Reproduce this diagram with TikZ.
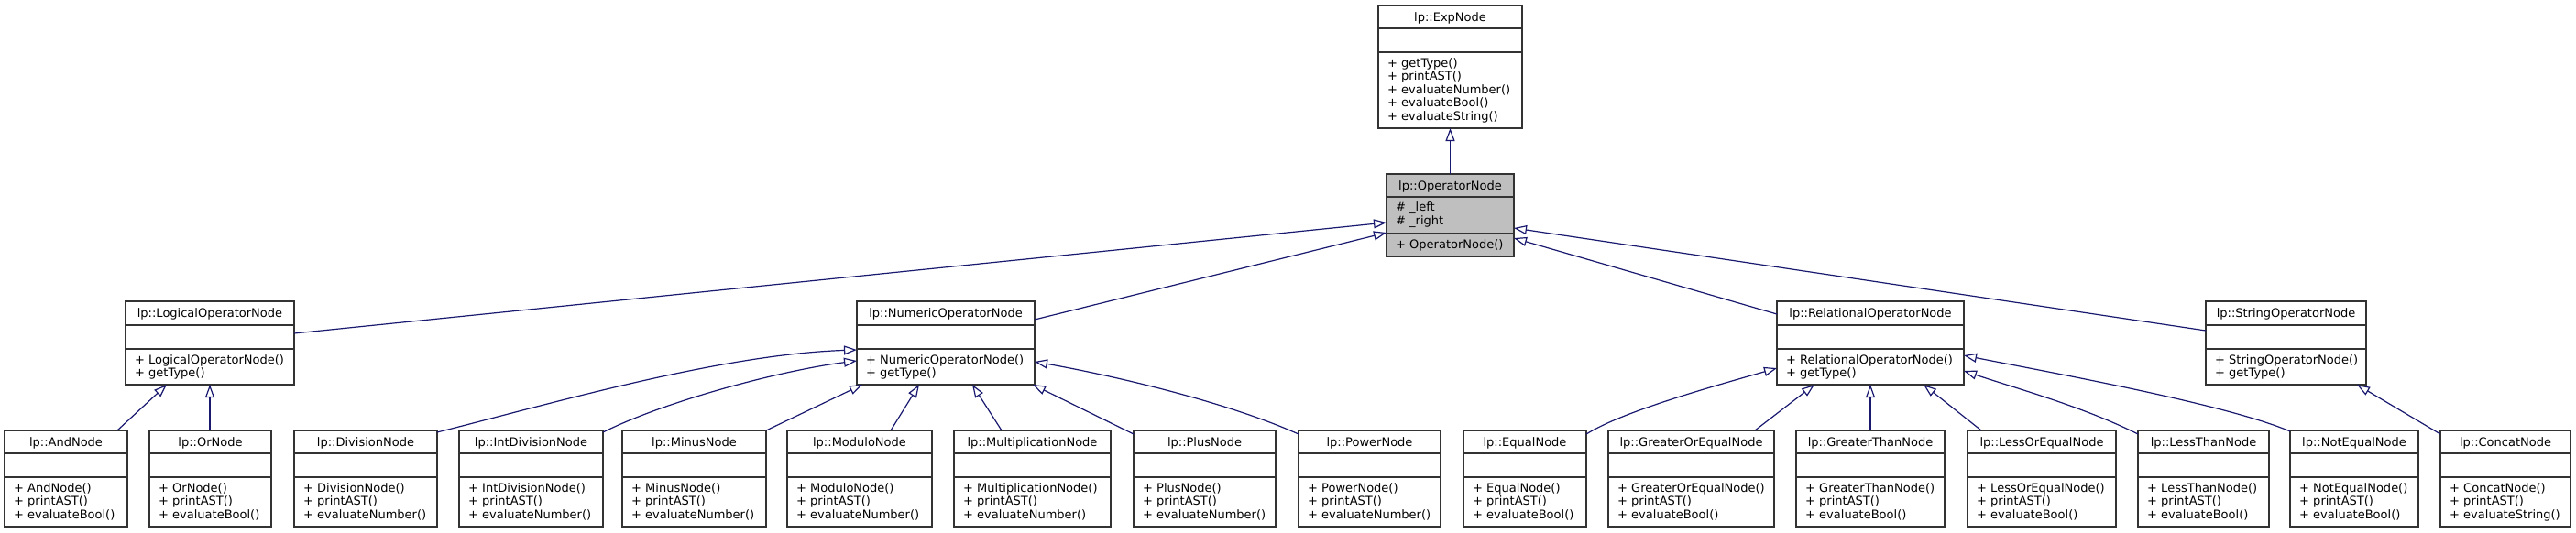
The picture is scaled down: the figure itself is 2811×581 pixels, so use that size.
\documentclass[tikz,border=0pt]{standalone}
\usepackage{fontspec}
\setmainfont{DejaVu Sans}
\usetikzlibrary{arrows.meta}
\definecolor{edgeblue}{HTML}{191970}
\definecolor{boxline}{HTML}{333333}
\definecolor{curfill}{HTML}{BFBFBF}
\tikzset{
  clsbox/.style={draw=boxline, line width=1.4pt, fill=white, rectangle, inner sep=0pt, outer sep=0pt},
  sepline/.style={draw=boxline, line width=1.4pt},
  inh/.style={draw=edgeblue, line width=1.2pt, -{Triangle[open, length=14pt, width=10pt, fill=white]}},
  txt/.style={inner sep=0pt, font=\fontsize{13}{14.5}\selectfont},
}
\newcommand\umlcls[9]{%
  \node[clsbox, minimum width={(#4-#2)*1pt}, minimum height={(#5-#3)*1pt}] (#1) at ({(#2+#4)/2},{(#3+#5)/2}) {};
  \draw[sepline] (#2,#6) -- (#4,#6) (#2,#7) -- (#4,#7);
  \node[txt, anchor=base] at ({(#2+#4)/2},{#3+17}) {#8};
  \foreach \t [count=\i from 0] in {#9} {\node[txt, anchor=base west] at ({#2+10},{#7+16+14.5*\i}) {\t};}
}
\begin{document}
\begin{tikzpicture}[x=1pt,y=-1pt]
\fill[white] (0,0) rectangle (2811,581);
\useasboundingbox (0,0) rectangle (2811,581);

% top
\umlcls{exp}{1504}{6}{1661}{140}{31}{57}{lp::ExpNode}{+ getType(),+ printAST(),+ evaluateNumber(),+ evaluateBool(),+ evaluateString()}

% current node
\node[clsbox, fill=curfill, draw=boxline, minimum width=139pt, minimum height=90pt] (op) at (1582.5,235) {};
\draw[sepline] (1513,215) -- (1652,215) (1513,255) -- (1652,255);
\node[txt, anchor=base] at (1582.5,207) {lp::OperatorNode};
\node[txt, anchor=base west] at (1523,230.5) {\# \_left};
\node[txt, anchor=base west] at (1523,245) {\# \_right};
\node[txt, anchor=base west] at (1523,271) {+ OperatorNode()};

% row 2
\umlcls{logical}{137}{329}{321}{420}{355}{381}{lp::LogicalOperatorNode}{+ LogicalOperatorNode(),+ getType()}
\umlcls{numeric}{935}{329}{1129}{420}{355}{381}{lp::NumericOperatorNode}{+ NumericOperatorNode(),+ getType()}
\umlcls{relational}{1939}{329}{2143}{420}{355}{381}{lp::RelationalOperatorNode}{+ RelationalOperatorNode(),+ getType()}
\umlcls{string}{2407}{329}{2582}{420}{355}{381}{lp::StringOperatorNode}{+ StringOperatorNode(),+ getType()}

% row 3
\umlcls{and}{5}{470}{139}{575}{495}{521}{lp::AndNode}{+ AndNode(),+ printAST(),+ evaluateBool()}
\umlcls{or}{163}{470}{296}{575}{495}{521}{lp::OrNode}{+ OrNode(),+ printAST(),+ evaluateBool()}
\umlcls{division}{321}{470}{477}{575}{495}{521}{lp::DivisionNode}{+ DivisionNode(),+ printAST(),+ evaluateNumber()}
\umlcls{intdiv}{501}{470}{658}{575}{495}{521}{lp::IntDivisionNode}{+ IntDivisionNode(),+ printAST(),+ evaluateNumber()}
\umlcls{minus}{679}{470}{836}{575}{495}{521}{lp::MinusNode}{+ MinusNode(),+ printAST(),+ evaluateNumber()}
\umlcls{modulo}{859}{470}{1017}{575}{495}{521}{lp::ModuloNode}{+ ModuloNode(),+ printAST(),+ evaluateNumber()}
\umlcls{mult}{1041}{470}{1212}{575}{495}{521}{lp::MultiplicationNode}{+ MultiplicationNode(),+ printAST(),+ evaluateNumber()}
\umlcls{plus}{1237}{470}{1392}{575}{495}{521}{lp::PlusNode}{+ PlusNode(),+ printAST(),+ evaluateNumber()}
\umlcls{power}{1417}{470}{1572}{575}{495}{521}{lp::PowerNode}{+ PowerNode(),+ printAST(),+ evaluateNumber()}
\umlcls{equal}{1597}{470}{1731}{575}{495}{521}{lp::EqualNode}{+ EqualNode(),+ printAST(),+ evaluateBool()}
\umlcls{goe}{1755}{470}{1936}{575}{495}{521}{lp::GreaterOrEqualNode}{+ GreaterOrEqualNode(),+ printAST(),+ evaluateBool()}
\umlcls{gt}{1960}{470}{2122}{575}{495}{521}{lp::GreaterThanNode}{+ GreaterThanNode(),+ printAST(),+ evaluateBool()}
\umlcls{loe}{2147}{470}{2309}{575}{495}{521}{lp::LessOrEqualNode}{+ LessOrEqualNode(),+ printAST(),+ evaluateBool()}
\umlcls{lt}{2333}{470}{2476}{575}{495}{521}{lp::LessThanNode}{+ LessThanNode(),+ printAST(),+ evaluateBool()}
\umlcls{ne}{2499}{470}{2639}{575}{495}{521}{lp::NotEqualNode}{+ NotEqualNode(),+ printAST(),+ evaluateBool()}
\umlcls{concat}{2663}{470}{2805}{575}{495}{521}{lp::ConcatNode}{+ ConcatNode(),+ printAST(),+ evaluateString()}

% inheritance edges
\draw[inh] (op.north) -- (exp.south);
\draw[inh] ([yshift=-35pt]logical.north east) -- ([yshift=-53pt]op.north west);
\draw[inh] ([yshift=-20pt]numeric.north east) -- ([yshift=-64pt]op.north west);
\draw[inh] ([yshift=-14pt]relational.north west) -- ([yshift=-70pt]op.north east);
\draw[inh] ([yshift=-32pt]string.north west) -- ([yshift=-59pt]op.north east);

\draw[inh] ([xshift=123pt]and.north west) -- ([xshift=45pt]logical.south west);
\draw[inh] ([xshift=66pt]or.north west) -- ([xshift=92pt]logical.south west);

\draw[inh] ([yshift=-2pt]division.north east) .. controls +(120,-30) and +(-150,5) .. ([yshift=-53pt]numeric.north west);
\draw[inh] ([yshift=-2pt]intdiv.north east) .. controls +(70,-35) and +(-80,10) .. ([yshift=-65pt]numeric.north west);
\draw[inh] (minus.north east) -- ([xshift=6pt]numeric.south west);
\draw[inh] ([xshift=113pt]modulo.north west) -- ([xshift=68pt]numeric.south west);
\draw[inh] ([xshift=52pt]mult.north west) -- ([xshift=126pt]numeric.south west);
\draw[inh] ([yshift=-4pt]plus.north west) -- ([xshift=-2pt]numeric.south east);
\draw[inh] ([yshift=-4pt]power.north west) .. controls +(-80,-36) and +(80,14) .. ([yshift=-66pt]numeric.north east);

\draw[inh] ([yshift=-4pt]equal.north east) .. controls +(40,-25) and +(-70,20) .. ([yshift=-73pt]relational.north west);
\draw[inh] ([xshift=-21pt]goe.north east) -- ([xshift=41pt]relational.south west);
\draw[inh] (gt.north) -- (relational.south);
\draw[inh] ([xshift=15pt]loe.north west) -- ([xshift=-44pt]relational.south east);
\draw[inh] ([yshift=-4pt]lt.north west) .. controls +(-60,-30) and +(60,20) .. ([yshift=-76pt]relational.north east);
\draw[inh] ([yshift=-1pt]ne.north west) .. controls +(-70,-30) and +(90,18) .. ([yshift=-59pt]relational.north east);

\draw[inh] ([yshift=-4pt]concat.north west) -- ([xshift=-10pt]string.south east);
\end{tikzpicture}
\end{document}
